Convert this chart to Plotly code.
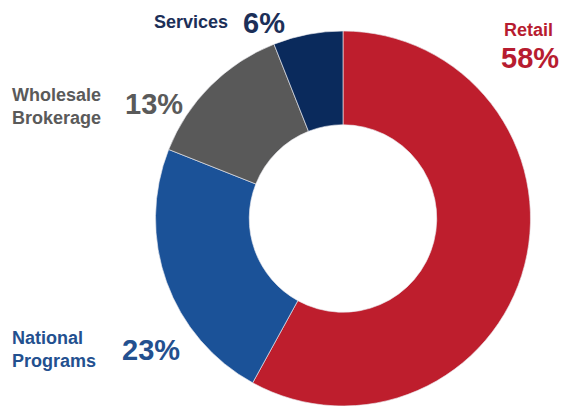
import plotly.graph_objects as go

# Business segment mix
segments = ["Retail", "National Programs", "Wholesale Brokerage", "Services"]
shares = [58, 23, 13, 6]
slice_colors = ["#BE1E2D", "#1B5298", "#595959", "#0A2A5C"]
label_colors = ["#B71C30", "#23508F", "#5A5A5A", "#1C2F58"]

W, H = 563, 406


def px(x):
    return x / W


def py(y):
    return 1 - y / H


fig = go.Figure(
    go.Pie(
        labels=segments,
        values=shares,
        hole=0.5,
        sort=False,
        direction="clockwise",
        rotation=0,
        textinfo="none",
        hoverinfo="label+percent",
        marker=dict(colors=slice_colors, line=dict(color="rgba(235,235,240,0.8)", width=0.8)),
        domain=dict(x=[px(155), px(531)], y=[0, py(31)]),
        showlegend=False,
    )
)

label_font = dict(family="Liberation Sans, Arial, sans-serif", size=18, weight="bold")
pct_font = dict(family="Liberation Sans, Arial, sans-serif", size=29, weight="bold")

# Label placement: (name text, name x, name y, name anchor, pct x, pct y, pct anchor)
placements = {
    "Retail": ("Retail", 528, 30, "center", 530, 58, "center"),
    "National Programs": ("National<br>Programs", 10, 349, "left", 120, 350, "left"),
    "Wholesale Brokerage": ("Wholesale<br>Brokerage", 10, 106, "left", 123, 104, "left"),
    "Services": ("Services", 230, 22, "right", 241, 23, "left"),
}

annotations = []
for seg, val, col in zip(segments, shares, label_colors):
    name, nx, ny, nanc, qx, qy, qanc = placements[seg]
    annotations.append(dict(
        text=name, x=px(nx), y=py(ny), xref="paper", yref="paper",
        xanchor=nanc, yanchor="middle", align="center" if nanc == "center" else "left",
        showarrow=False, font=dict(label_font, color=col),
    ))
    annotations.append(dict(
        text=f"{val}%", x=px(qx), y=py(qy), xref="paper", yref="paper",
        xanchor=qanc, yanchor="middle", showarrow=False,
        font=dict(pct_font, color=col),
    ))

fig.update_layout(
    width=W,
    height=H,
    margin=dict(l=0, r=0, t=0, b=0),
    paper_bgcolor="white",
    plot_bgcolor="white",
    annotations=annotations,
)

fig.write_html("out.html")
